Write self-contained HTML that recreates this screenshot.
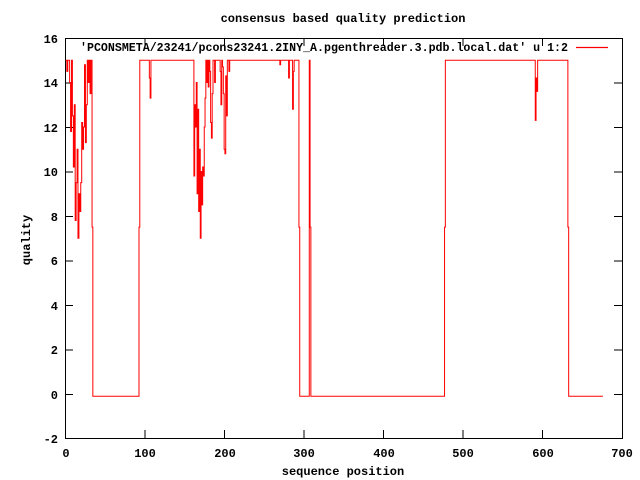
<!DOCTYPE html>
<html><head><style>
body{margin:0;background:#fff;}
svg{display:block;font-family:"Liberation Mono","DejaVu Sans Mono",monospace;font-weight:bold;font-size:12px;}
</style></head><body>
<svg width="640" height="480" viewBox="0 0 640 480">
<rect width="640" height="480" fill="#fff"/>
<text x="343" y="22" text-anchor="middle">consensus based quality prediction</text>
<g stroke="#000" stroke-width="1" fill="none">
<rect x="65.5" y="38.5" width="557" height="400"/>
<path d="M65 38.5h8M622 38.5h-8M65 83h8M622 83h-8M65 127.5h8M622 127.5h-8M65 172h8M622 172h-8M65 216.5h8M622 216.5h-8M65 261h8M622 261h-8M65 305.5h8M622 305.5h-8M65 350h8M622 350h-8M65 394.5h8M622 394.5h-8"/>
<path d="M145 438v-8M145 38v8M224.5 438v-8M224.5 38v8M304 438v-8M304 38v8M383.5 438v-8M383.5 38v8M463 438v-8M463 38v8M542.5 438v-8M542.5 38v8"/>
</g>
<g text-anchor="end">
<text x="58" y="43">16</text><text x="58" y="87">14</text><text x="58" y="132">12</text>
<text x="58" y="176">10</text><text x="58" y="221">8</text><text x="58" y="265">6</text>
<text x="58" y="310">4</text><text x="58" y="354">2</text><text x="58" y="399">0</text>
<text x="58" y="443">-2</text>
</g>
<g text-anchor="middle">
<text x="66" y="457">0</text><text x="145" y="457">100</text><text x="225" y="457">200</text>
<text x="304" y="457">300</text><text x="384" y="457">400</text><text x="463" y="457">500</text>
<text x="543" y="457">600</text><text x="622" y="457">700</text>
<text x="343" y="475">sequence position</text>
</g>
<text transform="translate(30,240) rotate(-90)" text-anchor="middle">quality</text>
<text x="80" y="51" textLength="488" lengthAdjust="spacingAndGlyphs">'PCONSMETA/23241/pcons23241.2INY_A.pgenthreader.3.pdb.local.dat' u 1:2</text>
<line x1="576" y1="47.5" x2="608" y2="47.5" stroke="#ff0000" stroke-width="1.2"/>
<g transform="translate(65,394) scale(0.7957,-22.25)">
<path fill="none" stroke="#f00" stroke-width="1" vector-effect="non-scaling-stroke" d="
M1,15 H2.3 V14.5 H3.5 V15 H5.8 V14 H7 V11.8 H8.2 V15 H9.3 V12.5 H10.5 V10.2 H11.7 V13 H12.8 V7.8 H14 V9.5 H15.2 V11 H16.3 V7 H17.5 V9 H18.7 V8.2 H19.8 V9.5 H21 V12.2 H22.2 V11 H23.3 V12 H24.5 V14.8 H25.7 V11.3 H26.8 V13 H28 V15 H29.2 V14 H30.3 V15 H31.5 V13.5 H32.7 V15 H34 V7.5 H35 V-0.1
H93 V7.5 H94 V15 H106 V14.2 H107 V13.3 H108 V15 H162 V9.8 H163 V13 H164 V12 H165 V14 H166 V9 H167 V12.8 H168 V8.2 H169 V11 H170 V7 H171 V10 H172 V8.5 H173 V10.2 H174 V9.8 H175 V12 H176 V13.3 H177 V15 H178 V14 H179 V15 H180 V13.8 H181 V15 H182 V14.5 H183 V12.2 H184 V11.5 H185 V13.5 H186 V15 H188 V14 H189 V15 H195 V14.5 H196 V13 H197 V15 H198 V14.7 H199 V13.5 H200 V11 H201 V10.8 H202 V14.3 H203 V12.5 H204 V15 H206 V14.5 H207 V15 H270 V14.8 H271 V15 H281 V14.2 H282 V15 H286 V12.8 H287 V14.5 H288 V15 H294 V7.5 H295 V-0.1
H307 V15 H308 V7.5 H309 V-0.1 H477 V7.5 H478 V15 H591 V12.3 H592 V14.2 H593 V13.6 H594 V15 H632 V7.5 H633 V-0.1 H676"/>
</g>
</svg>
</body></html>
